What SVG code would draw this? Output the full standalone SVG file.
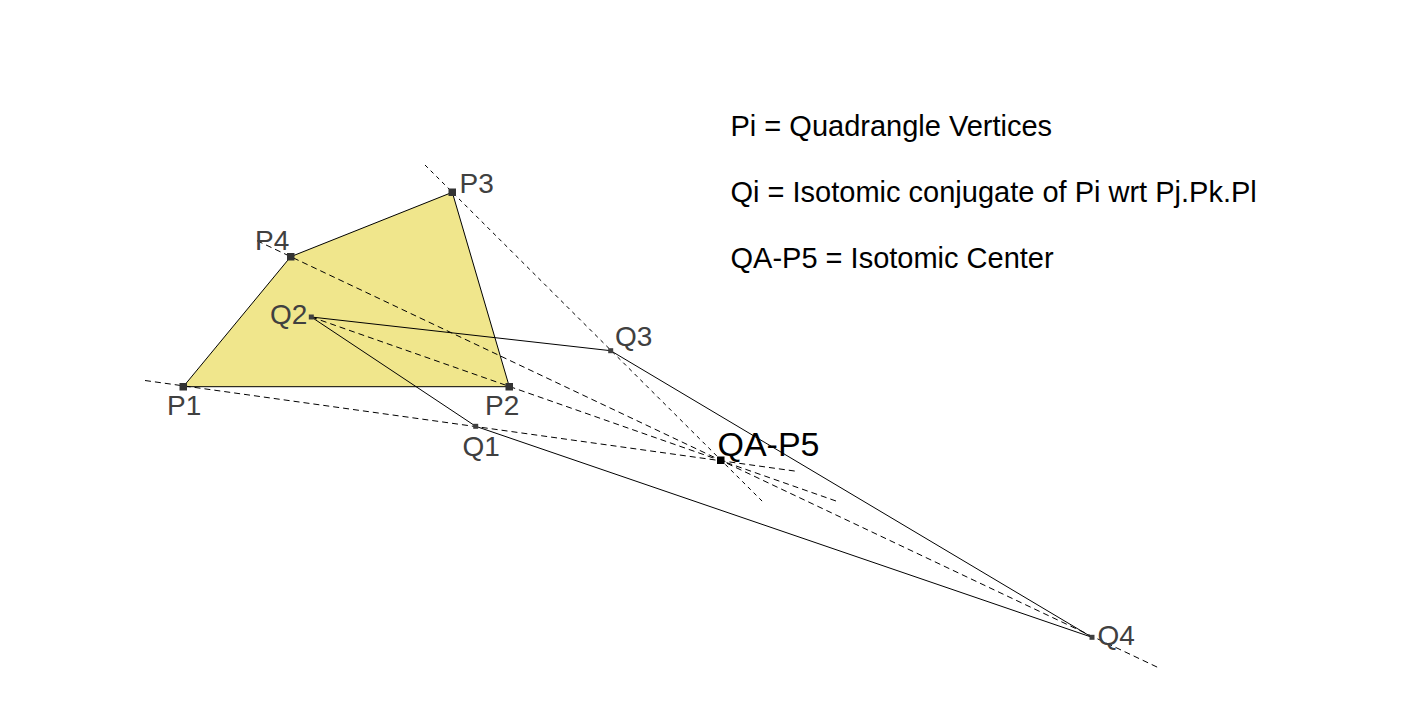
<svg xmlns="http://www.w3.org/2000/svg" width="1423" height="713" viewBox="0 0 1423 713">
<style>
.lbl{font-family:"Liberation Sans",Arial,sans-serif;font-size:28px;fill:#404040}
.leg{font-family:"Liberation Sans",Arial,sans-serif;font-size:29px;fill:#000}
.big{font-family:"Liberation Sans",Arial,sans-serif;font-size:34px;fill:#000}
.dash{fill:none;stroke:#000;stroke-width:1;stroke-dasharray:6,4}
.dash2{fill:none;stroke:#000;stroke-width:1;stroke-dasharray:4,4}
.solid{fill:none;stroke:#000;stroke-width:1}
.pm{fill:#333}
.qm{fill:#404040}
</style>
<rect width="1423" height="713" fill="#fff"/>
<g id="quadrangle">
<polygon points="183.3,386.7 509.3,386.7 452.3,192.3 290.7,256.7" fill="#F0E68C" stroke="#000" stroke-width="1"/>
</g>
<g id="connectors">
<line class="dash" x1="145" y1="380.5" x2="798" y2="471.5"/>
<line class="dash2" x1="425" y1="165" x2="764" y2="503"/>
<line class="dash" x1="257" y1="240.7" x2="1158" y2="667.5"/>
<line class="dash" x1="311.3" y1="317" x2="836" y2="501"/>
<polyline class="solid" points="311.3,317 610.7,350.7 1092,637.3 475.7,426.3 311.3,317"/>
</g>
<g id="P1"><rect class="pm" x="179.5" y="383" width="7.5" height="7.5"/><text class="lbl" x="167" y="415">P1</text></g>
<g id="P2"><rect class="pm" x="505.5" y="383" width="7.5" height="7.5"/><text class="lbl" x="485" y="415">P2</text></g>
<g id="P3"><rect class="pm" x="448.5" y="188.5" width="7.5" height="7.5"/><text class="lbl" x="459.5" y="193">P3</text></g>
<g id="P4"><rect class="pm" x="287" y="253" width="7.5" height="7.5"/><text class="lbl" x="255" y="250">P4</text></g>
<g id="Q1"><rect class="qm" x="473.2" y="423.8" width="5" height="5"/><text class="lbl" x="462.5" y="456">Q1</text></g>
<g id="Q2"><rect class="qm" x="308.8" y="314.5" width="5" height="5"/><text class="lbl" x="270" y="324">Q2</text></g>
<g id="Q3"><rect class="qm" x="608.2" y="348.2" width="5" height="5"/><text class="lbl" x="615" y="346">Q3</text></g>
<g id="Q4"><rect class="qm" x="1089.5" y="634.8" width="5" height="5"/><text class="lbl" x="1097.5" y="645">Q4</text></g>
<g id="QA-P5"><rect fill="#000" x="717" y="456.5" width="7.5" height="7.5"/><text class="big" x="717.5" y="456">QA-P5</text></g>
<g id="legend">
<text class="leg" x="730.5" y="136">Pi = Quadrangle Vertices</text>
<text class="leg" x="730.5" y="202">Qi = Isotomic conjugate of Pi wrt Pj.Pk.Pl</text>
<text class="leg" x="730.5" y="268">QA-P5 = Isotomic Center</text>
</g>
</svg>
